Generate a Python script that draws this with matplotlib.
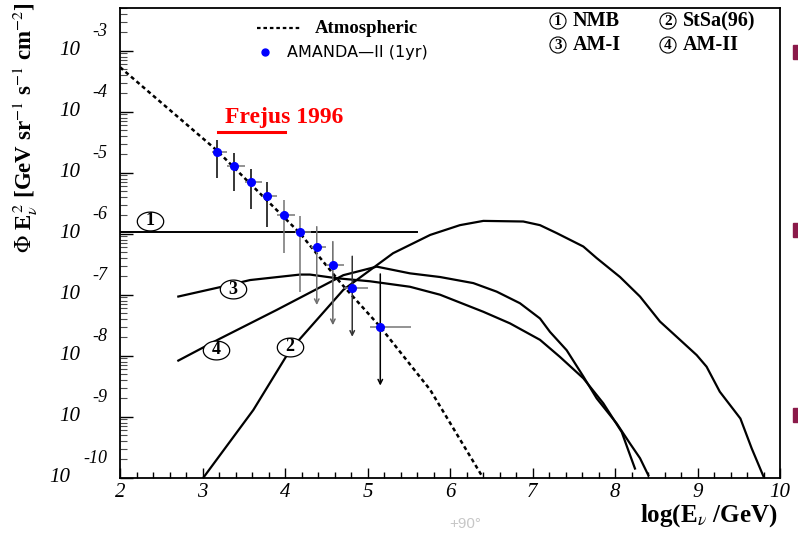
import matplotlib
matplotlib.use("Agg")
import matplotlib.pyplot as plt
import numpy as np
from matplotlib.ticker import LogLocator, NullFormatter, MultipleLocator
from matplotlib.patches import Rectangle
from matplotlib.path import Path

# values: x = log10(E/GeV), y = log10(flux)
atm_x = [2.0, 3.17, 4.18, 4.67, 5.15, 5.76, 6.40]
atm_y = [-3.27, -4.63, -5.99, -6.80, -7.52, -8.56, -10.0]

nmb_x = [2.0, 5.6]
nmb_y = [-5.97, -5.97]

stsa_x = [3.01, 3.616, 4.06, 4.707, 5.31, 5.76, 6.12, 6.404, 6.888, 7.091, 7.293, 7.616,
          7.778, 8.061, 8.303, 8.545, 8.788, 8.99, 9.11, 9.27, 9.52, 9.657, 9.80]
stsa_y = [-10.0, -8.89, -7.91, -6.92, -6.32, -6.02, -5.86, -5.79, -5.80, -5.86, -5.99, -6.21,
          -6.40, -6.71, -7.03, -7.44, -7.74, -7.99, -8.18, -8.59, -9.03, -9.52, -9.98]

am1_x = [2.707, 3.233, 3.576, 4.182, 4.303, 4.627, 5.03, 5.515, 5.879, 6.404, 6.727, 7.091,
         7.333, 7.616, 7.858, 8.081, 8.161, 8.242]
am1_y = [-7.03, -6.87, -6.76, -6.67, -6.67, -6.73, -6.78, -6.87, -7.0, -7.28, -7.47, -7.74,
         -8.02, -8.37, -8.78, -9.25, -9.55, -9.85]

am2_x = [2.707, 3.212, 3.899, 4.707, 5.112, 5.515, 5.879, 6.283, 6.566, 6.848, 7.091, 7.212,
         7.414, 7.616, 7.778, 8.02, 8.182, 8.303, 8.404]
am2_y = [-8.08, -7.72, -7.25, -6.68, -6.54, -6.65, -6.71, -6.81, -6.95, -7.14, -7.39, -7.61,
         -7.91, -8.34, -8.70, -9.11, -9.44, -9.68, -9.96]

# AMANDA-II (1yr)
ama_x = [3.18, 3.385, 3.59, 3.785, 3.985, 4.185, 4.385, 4.58, 4.815, 5.155]
ama_y = [-4.665, -4.89, -5.15, -5.39, -5.69, -5.98, -6.21, -6.52, -6.895, -7.525]
ama_xlo = [3.11, 3.30, 3.515, 3.72, 3.90, 4.12, 4.32, 4.50, 4.71, 5.03]
ama_xhi = [3.30, 3.515, 3.72, 3.90, 4.12, 4.32, 4.50, 4.71, 5.01, 5.53]
ama_ylo = [-5.08, -5.30, -5.60, -5.895, -6.32, -6.95, -7.17, -7.50, -7.69, -8.49]
ama_yhi = [-4.465, -4.68, -4.94, -5.16, -5.45, -5.71, -5.885, -6.13, -6.37, -6.66]
ama_limit = [False, False, False, False, False, False, True, True, True, True]
ama_vcol = ["k", "k", "k", "k", "0.45", "0.45", "0.45", "0.4", "0.2", "k"]

# curve tags
tag_text = ["1", "3", "4", "2"]
tag_x = [2.364, 3.373, 3.164, 4.06]
tag_y = [-5.79, -6.91, -7.90, -7.85]

xticks = list(range(2, 11))
ydecades = list(range(-10, -2))

serif = "Liberation Serif"
plt.rcParams["mathtext.fontset"] = "stix"

fig = plt.figure(figsize=(7.98, 5.36), dpi=100)
ax = fig.add_axes([120 / 798, 1 - 477.7 / 536, 660 / 798, 469.7 / 536])
ax.set_yscale("log")
ax.set_xlim(2, 10)
ax.set_ylim(1e-10, 10 ** -2.3)

def p(v):
    return 10.0 ** np.asarray(v)

ax.plot(atm_x, p(atm_y), color="k", lw=1.8, ls=(0, (1.6, 1.3)))
ax.plot(nmb_x, p(nmb_y), color="k", lw=1.4)
for xs, ys in [(stsa_x, stsa_y), (am1_x, am1_y), (am2_x, am2_y)]:
    ax.plot(xs, p(ys), color="k", lw=1.6)

# error bars
ax.hlines(p(ama_y), ama_xlo, ama_xhi, color="0.5", lw=1.2)
for i in range(len(ama_x)):
    if ama_limit[i]:
        ax.annotate("", xy=(ama_x[i], p(ama_ylo[i])), xytext=(ama_x[i], p(ama_yhi[i])),
                    arrowprops=dict(arrowstyle="->", color=ama_vcol[i], lw=1.1,
                                    shrinkA=0, shrinkB=0, mutation_scale=8))
    else:
        ax.vlines(ama_x[i], p(ama_ylo[i]), p(ama_yhi[i]), color=ama_vcol[i], lw=1.1)
ax.plot(ama_x, p(ama_y), "o", color="#0000ff", ms=5.5, mec="#0000ff", zorder=5)

# oval tags on the curves
t = np.linspace(0, 2 * np.pi, 64)
oval = Path(np.column_stack([1.4 * np.cos(t), np.sin(t)]), closed=True)
ax.plot(tag_x, p(tag_y), ls="none", marker=oval, ms=19, mfc="white", mec="k", mew=0.9, zorder=6)
for txt, x, y in zip(tag_text, tag_x, tag_y):
    ax.text(x, p(y), txt, ha="center", va="center", family=serif, weight="bold",
            fontsize=13, zorder=7)

# Frejus 1996
ax.text(3.988, p(-4.09), "Frejus 1996", color="red", family=serif, weight="bold",
        fontsize=17, ha="center", va="center")
ax.plot([3.188, 4.0], p([-4.333, -4.333]), color="red", lw=2.2)

# legend (drawn by hand as in the original)
tA = ax.transAxes
ax.plot([0.2076, 0.2727], [0.9574, 0.9574], color="k", lw=1.6, ls=(0, (1.6, 1.3)), transform=tA)
ax.text(0.2955, 0.9574, "Atmospheric", transform=tA, family=serif, weight="bold",
        fontsize=13.5, va="center")
ax.plot([0.2197], [0.9063], "o", color="#0000ff", ms=5, transform=tA)
ax.text(0.253, 0.9063, "AMANDA\u2014II (1yr)", transform=tA, family="DejaVu Sans",
        fontsize=11.5, va="center")
leg = [("1", "NMB", 0.6636, 0.9723), ("2", "StSa(96)", 0.8303, 0.9723),
       ("3", "AM-I", 0.6636, 0.9212), ("4", "AM-II", 0.8303, 0.9212)]
for num, name, lx, ly in leg:
    ax.text(lx, ly, num, transform=tA, ha="center", va="center", family=serif,
            weight="bold", fontsize=11,
            bbox=dict(boxstyle="circle,pad=0.1", fc="white", ec="k", lw=0.8))
    ax.text(lx + 0.022, ly, name, transform=tA, va="center", family=serif,
            weight="bold", fontsize=14.5)

# axes style
for s in ax.spines.values():
    s.set_linewidth(1.3)
ax.set_xticks(xticks)
ax.xaxis.set_minor_locator(MultipleLocator(0.2))
ax.set_xticklabels([str(v) for v in xticks], family=serif, style="italic", fontsize=15)
ax.set_yticks([10.0 ** d for d in ydecades])
ax.yaxis.set_minor_locator(LogLocator(base=10, subs=np.arange(2, 10), numticks=50))
ax.yaxis.set_major_formatter(NullFormatter())
ax.yaxis.set_minor_formatter(NullFormatter())
ax.tick_params(axis="x", which="major", direction="in", length=7, width=1, pad=4, top=False)
ax.tick_params(axis="x", which="minor", direction="in", length=4, width=1, top=False)
ax.tick_params(axis="y", which="major", direction="in", length=9, width=1, right=False)
ax.tick_params(axis="y", which="minor", direction="in", length=5, width=0.8, right=False, color="0.3")

for d in ydecades:
    ax.annotate("10", xy=(0, 10.0 ** d), xycoords=("axes fraction", "data"),
                xytext=(-40 if d > -10 else -50, 0), textcoords="offset pixels",
                ha="right", va="center", family=serif, style="italic", fontsize=15)
    ax.annotate(str(d), xy=(0, 10.0 ** d), xycoords=("axes fraction", "data"),
                xytext=(-13, 19), textcoords="offset pixels",
                ha="right", va="center", family=serif, style="italic", fontsize=13)

fig.text(0.975, 1 - 516 / 536, r"log(E$_{\nu}$ /GeV)", ha="right", va="center",
         family=serif, weight="bold", fontsize=18)
fig.text(0.032, 1 - 128 / 536, r"$\Phi$ E$_{\nu}^{\,2}$ [GeV sr$^{-1}$ s$^{-1}$ cm$^{-2}$]",
         rotation=90, ha="center", va="center", family=serif, weight="bold", fontsize=16.5)
fig.text(465 / 798, 1 - 524 / 536, "+90\u00b0", ha="center", va="center",
         family="Liberation Sans", fontsize=11, color="0.78")

for yy in [52, 230, 415]:
    fig.patches.append(Rectangle((793 / 798, 1 - (yy + 7) / 536), 6 / 798, 14 / 536,
                                 transform=fig.transFigure, color="#8b1a4a"))

fig.savefig("out.png", dpi=100)
